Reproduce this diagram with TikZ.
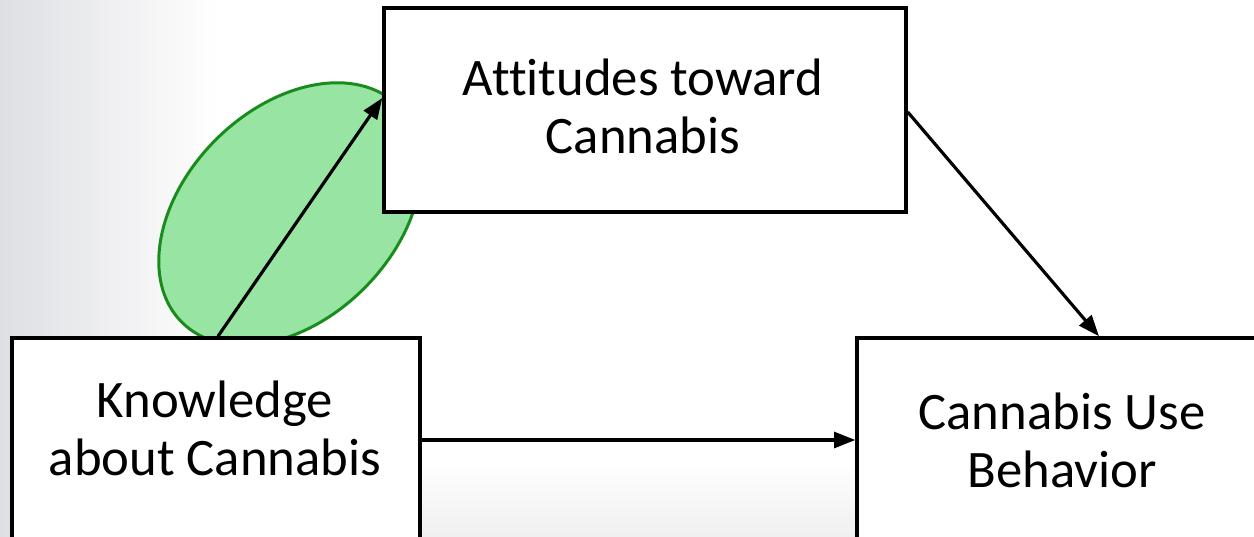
\documentclass[tikz,border=0pt]{standalone}
\usepackage{fontspec}
\setmainfont[Ligatures=NoCommon]{Carlito}
\usetikzlibrary{arrows.meta}
\definecolor{ringgreen}{RGB}{26,140,30}
\definecolor{softgreen}{RGB}{152,228,162}
\definecolor{edgegrey}{RGB}{222,223,227}
\begin{document}
\begin{tikzpicture}[x=0.02cm,y=-0.02cm,
  box/.style={draw=black,line width=2pt,fill=white,minimum width=#1,
              minimum height=4.08cm,inner sep=0pt},
  lbl/.style={align=center,font=\fontsize{30}{33}\selectfont,inner sep=0pt},
  arr/.style={line width=1.8pt,-{Triangle[length=12pt,width=9pt]}},
  blob/.style={line width=1.7pt,draw=ringgreen,fill=softgreen}]
\useasboundingbox (0,0) rectangle (1254,537);
\clip (0,0) rectangle (1254,537);
% backdrop: white with a soft grey edge on the left and at the bottom
\fill[white] (0,0) rectangle (1254,537);
\shade[left color=edgegrey,right color=white] (0,0) rectangle (220,537);
\shade[top color=white,bottom color=black!6] (220,460) rectangle (1254,537);
% highlighted path
\draw[blob,rotate around={45:(290,214)}] (290,214) ellipse (153 and 105);
% boxes
\node[box=10.44cm] (att) at (645,110) {};
\node[box=8.16cm] (kn) at (216,440) {};
\node[box=8.16cm] (cub) at (1061,440) {};
% box texts
\node[lbl] (atttext) at (643,106) {Attitudes toward\\Cannabis};
\node[lbl] (kntext) at (215,428) {Knowledge\\about Cannabis};
\node[lbl] (cubtext) at (1062,440) {Cannabis Use\\Behavior};
% connectors
\draw[arr] ([xshift=0.04cm]kn.north) -- ([yshift=0.24cm]att.west);
\draw[arr] ([yshift=-0.04cm]att.east) -- ([xshift=0.76cm]cub.north);
\draw[arr] (kn.east) -- (cub.west);
\end{tikzpicture}
\end{document}
